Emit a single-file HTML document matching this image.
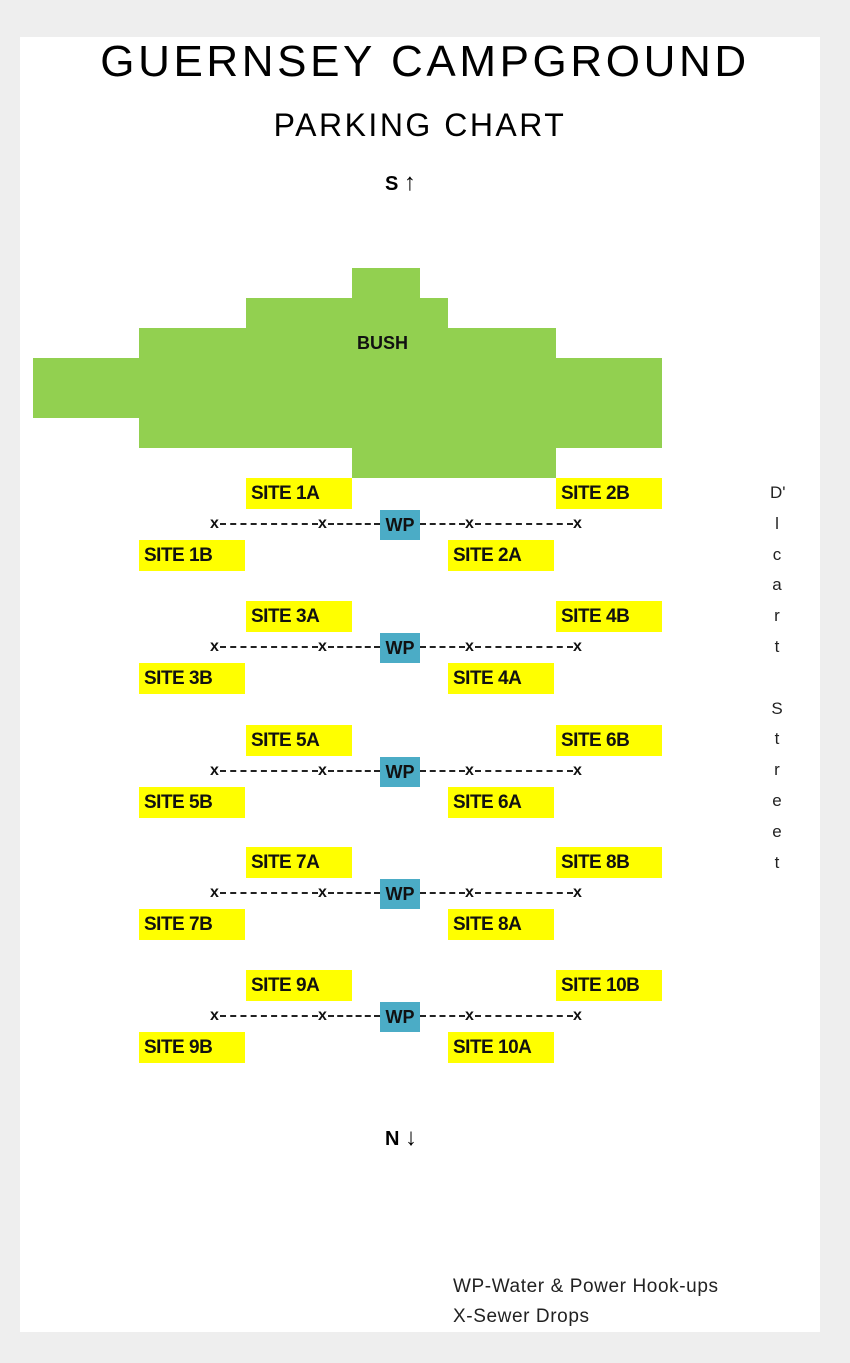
<!DOCTYPE html>
<html><head><meta charset="utf-8"><style>
body{margin:0;width:850px;height:1363px;background:#eeeeee;position:relative;overflow:hidden;font-family:"Liberation Sans",sans-serif}
.panel{position:absolute;left:20px;top:37px;width:800px;height:1295px;background:#fff}
.a{position:absolute}
.g{position:absolute;background:#92d050}
.s{position:absolute;background:#ffff00;height:31px;width:106px;font-weight:bold;font-size:19px;line-height:31px;box-sizing:border-box;padding-left:5px;color:#111;letter-spacing:-0.5px}
.wp{position:absolute;background:#4bacc6;width:40px;height:30px;font-weight:bold;font-size:18px;line-height:30px;text-align:center;color:#111}
.x{position:absolute;font-weight:bold;font-size:16px;line-height:16px;color:#111}
.d{position:absolute;border-top:2px dashed #222;height:0}
.c{position:absolute;left:770px;width:14px;text-align:center;font-size:17px;color:#222}
</style></head><body>
<div class="panel"></div>
<div class="a" style="left:0;width:850px;top:37px;text-align:center;font-size:44px;letter-spacing:3.6px;color:#000">GUERNSEY CAMPGROUND</div>
<div class="a" style="left:0;width:840px;top:107px;text-align:center;font-size:32px;letter-spacing:2.5px;color:#000">PARKING CHART</div>
<div class="a" style="left:385px;top:169px;font-weight:bold;font-size:20px">S <span style="font-size:24px">↑</span></div>
<div class="a" style="left:385px;top:1124px;font-weight:bold;font-size:20px">N <span style="font-size:24px">↓</span></div>

<div class="g" style="left:352px;top:268px;width:68px;height:31px"></div>
<div class="g" style="left:246px;top:298px;width:202px;height:31px"></div>
<div class="g" style="left:139px;top:328px;width:417px;height:31px"></div>
<div class="g" style="left:33px;top:358px;width:629px;height:60px"></div>
<div class="g" style="left:139px;top:417px;width:523px;height:31px"></div>
<div class="g" style="left:352px;top:447px;width:204px;height:31px"></div>
<div class="a" style="left:357px;top:333px;font-weight:bold;font-size:18px;color:#111">BUSH</div>

<div id="rows"></div>
<script>
var T=[478,601,725,847,970],h='';
for(var i=0;i<5;i++){var t=T[i],n=2*i+1,m=2*i+2;
h+='<div class="s" style="left:246px;top:'+t+'px">SITE '+n+'A</div>';
h+='<div class="s" style="left:556px;top:'+t+'px">SITE '+m+'B</div>';
h+='<div class="s" style="left:139px;top:'+(t+62)+'px">SITE '+n+'B</div>';
h+='<div class="s" style="left:448px;top:'+(t+62)+'px">SITE '+m+'A</div>';
var y=t+46;
h+='<div class="wp" style="left:380px;top:'+(t+32)+'px">WP</div>';
[210,318,465,573].forEach(function(x){h+='<div class="x" style="left:'+x+'px;top:'+(y-8)+'px">x</div>'});
[[220,318],[328,380],[420,465],[475,573]].forEach(function(p){h+='<div class="d" style="left:'+p[0]+'px;width:'+(p[1]-p[0])+'px;top:'+(y-1)+'px"></div>'});
}
var L="D'|l|c|a|r|t||S|t|r|e|e|t".split('|');
for(var k=0;k<L.length;k++){if(L[k])h+='<div class="c" style="top:'+(483+k*30.8)+'px">'+L[k]+'</div>'}
document.getElementById('rows').innerHTML=h;
</script>
<div class="a" style="left:453px;top:1276px;font-size:19px;letter-spacing:0.6px;color:#222">WP-Water &amp; Power Hook-ups</div>
<div class="a" style="left:453px;top:1306px;font-size:19px;letter-spacing:0.6px;color:#222">X-Sewer Drops</div>
</body></html>
